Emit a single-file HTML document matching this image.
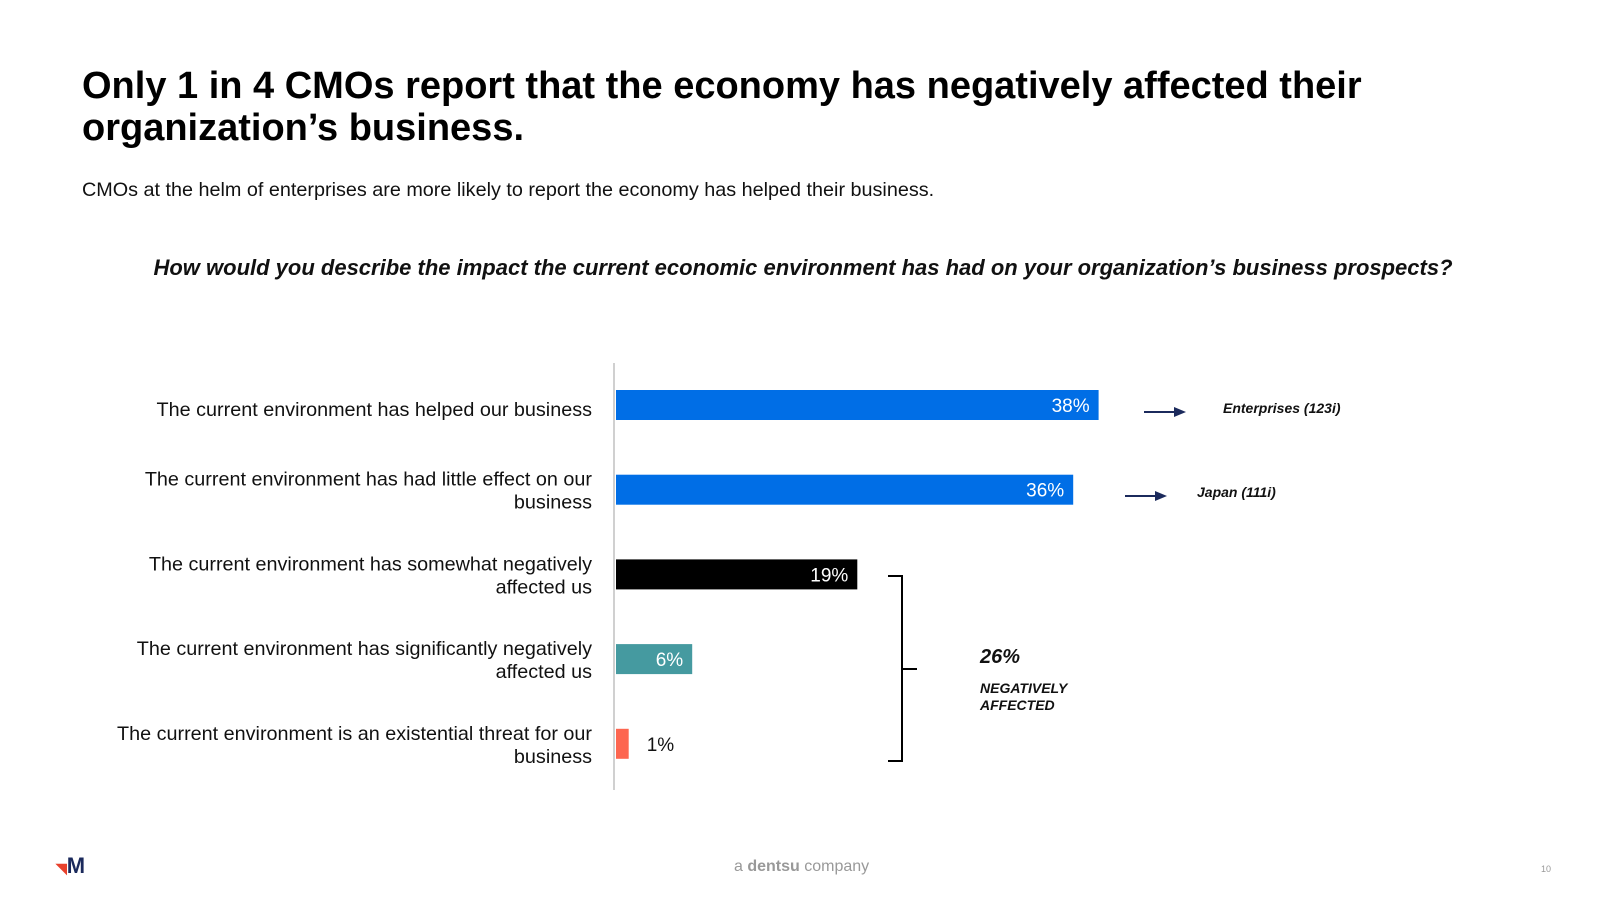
<!DOCTYPE html>
<html><head><meta charset="utf-8"><style>
body{margin:0;width:1600px;height:900px;background:#fff;font-family:"Liberation Sans",sans-serif;overflow:hidden;position:relative}
.t{position:absolute;white-space:nowrap}
</style></head><body>
<div class="t" style="left:82px;top:65px;font-size:38px;font-weight:bold;line-height:42px;color:#000">Only 1 in 4 CMOs report that the economy has negatively affected their<br>organization’s business.</div>
<div class="t" style="left:82px;top:179px;font-size:19.8px;color:#111">CMOs at the helm of enterprises are more likely to report the economy has helped their business.</div>
<div class="t" style="left:0;width:1606px;text-align:center;top:255px;font-size:22px;font-weight:bold;font-style:italic;color:#111">How would you describe the impact the current economic environment has had on your organization’s business prospects?</div>
<svg id="chart" width="1600" height="900" style="position:absolute;left:0;top:0"></svg>
<div class="t" style="left:56px;top:853px;font-size:22px;font-weight:bold;color:#1b2a5c"><span style="color:#e8412c;font-size:14px">◥</span>M</div>
<div class="t" style="left:734px;top:858px;font-size:16px;color:#999">a <b>dentsu</b> company</div>
<div class="t" style="left:1541px;top:864px;font-size:9px;color:#999">10</div>
<script>
const categories=[["The current environment has helped our business"],["The current environment has had little effect on our","business"],["The current environment has somewhat negatively","affected us"],["The current environment has significantly negatively","affected us"],["The current environment is an existential threat for our","business"]];
const values=[38,36,19,6,1];
const colors=["#006ee6","#006ee6","#000000","#459aa0","#fd6650"];
const svg=document.getElementById('chart');const NS='http://www.w3.org/2000/svg';
const x0=616,pxPer=12.7,y0=405,step=84.7,bh=30;
const xs=v=>x0+v*pxPer, ys=i=>y0+i*step;
function mk(t,a){const e=document.createElementNS(NS,t);for(const k in a)e.setAttribute(k,a[k]);svg.appendChild(e);return e;}
const ax=mk('line',{x1:614,x2:614,y1:363,y2:790,stroke:'#d0d0d0','stroke-width':2});


values.forEach((v,i)=>{
 const r=mk('rect',{x:x0,y:ys(i)-bh/2,width:xs(v)-x0,height:bh,fill:colors[i]});
 
 
 const inside=v>=3;
 const t=mk('text',{x:inside?xs(v)-9:xs(v)+18,y:ys(i)+7,'font-size':19,fill:inside?'#fff':'#111','text-anchor':inside?'end':'start'});
 t.textContent=v+'%';
 
 
 const lines=categories[i];
 lines.forEach((ln,j)=>{
  const c=mk('text',{x:592,y:ys(i)+(lines.length===1?11:-4+j*23),'font-size':19.8,fill:'#111','text-anchor':'end'});
  c.textContent=ln;
  
  
 });
});
function arrow(x1,x2,y,name){const g=mk('g',{});
 const l=document.createElementNS(NS,'line');l.setAttribute('x1',x1);l.setAttribute('x2',x2-10);l.setAttribute('y1',y);l.setAttribute('y2',y);l.setAttribute('stroke','#1b2a5c');l.setAttribute('stroke-width',2);g.appendChild(l);
 const p=document.createElementNS(NS,'polygon');p.setAttribute('points',`${x2-12},${y-5} ${x2},${y} ${x2-12},${y+5}`);p.setAttribute('fill','#1b2a5c');g.appendChild(p);}
arrow(1144,1186,412,'arrow-enterprises');arrow(1125,1167,496,'arrow-japan');
function txt(x,y,s,str,name,w){const t=mk('text',{x,y,'font-size':s,'font-weight':w||'bold','font-style':'italic',fill:'#111'});t.textContent=str;}
txt(1223,413,14,'Enterprises (123i)','enterprises-note');
txt(1197,497,14,'Japan (111i)','japan-note');
const b=mk('path',{d:'M888,576 L902,576 L902,669 L917,669 M902,669 L902,761 L888,761',fill:'none',stroke:'#000','stroke-width':2});


txt(980,663,20,'26%','negative-total');
txt(980,693,14,'NEGATIVELY','negative-label-1');
txt(980,710,14,'AFFECTED','negative-label-2');
</script>
</body></html>
